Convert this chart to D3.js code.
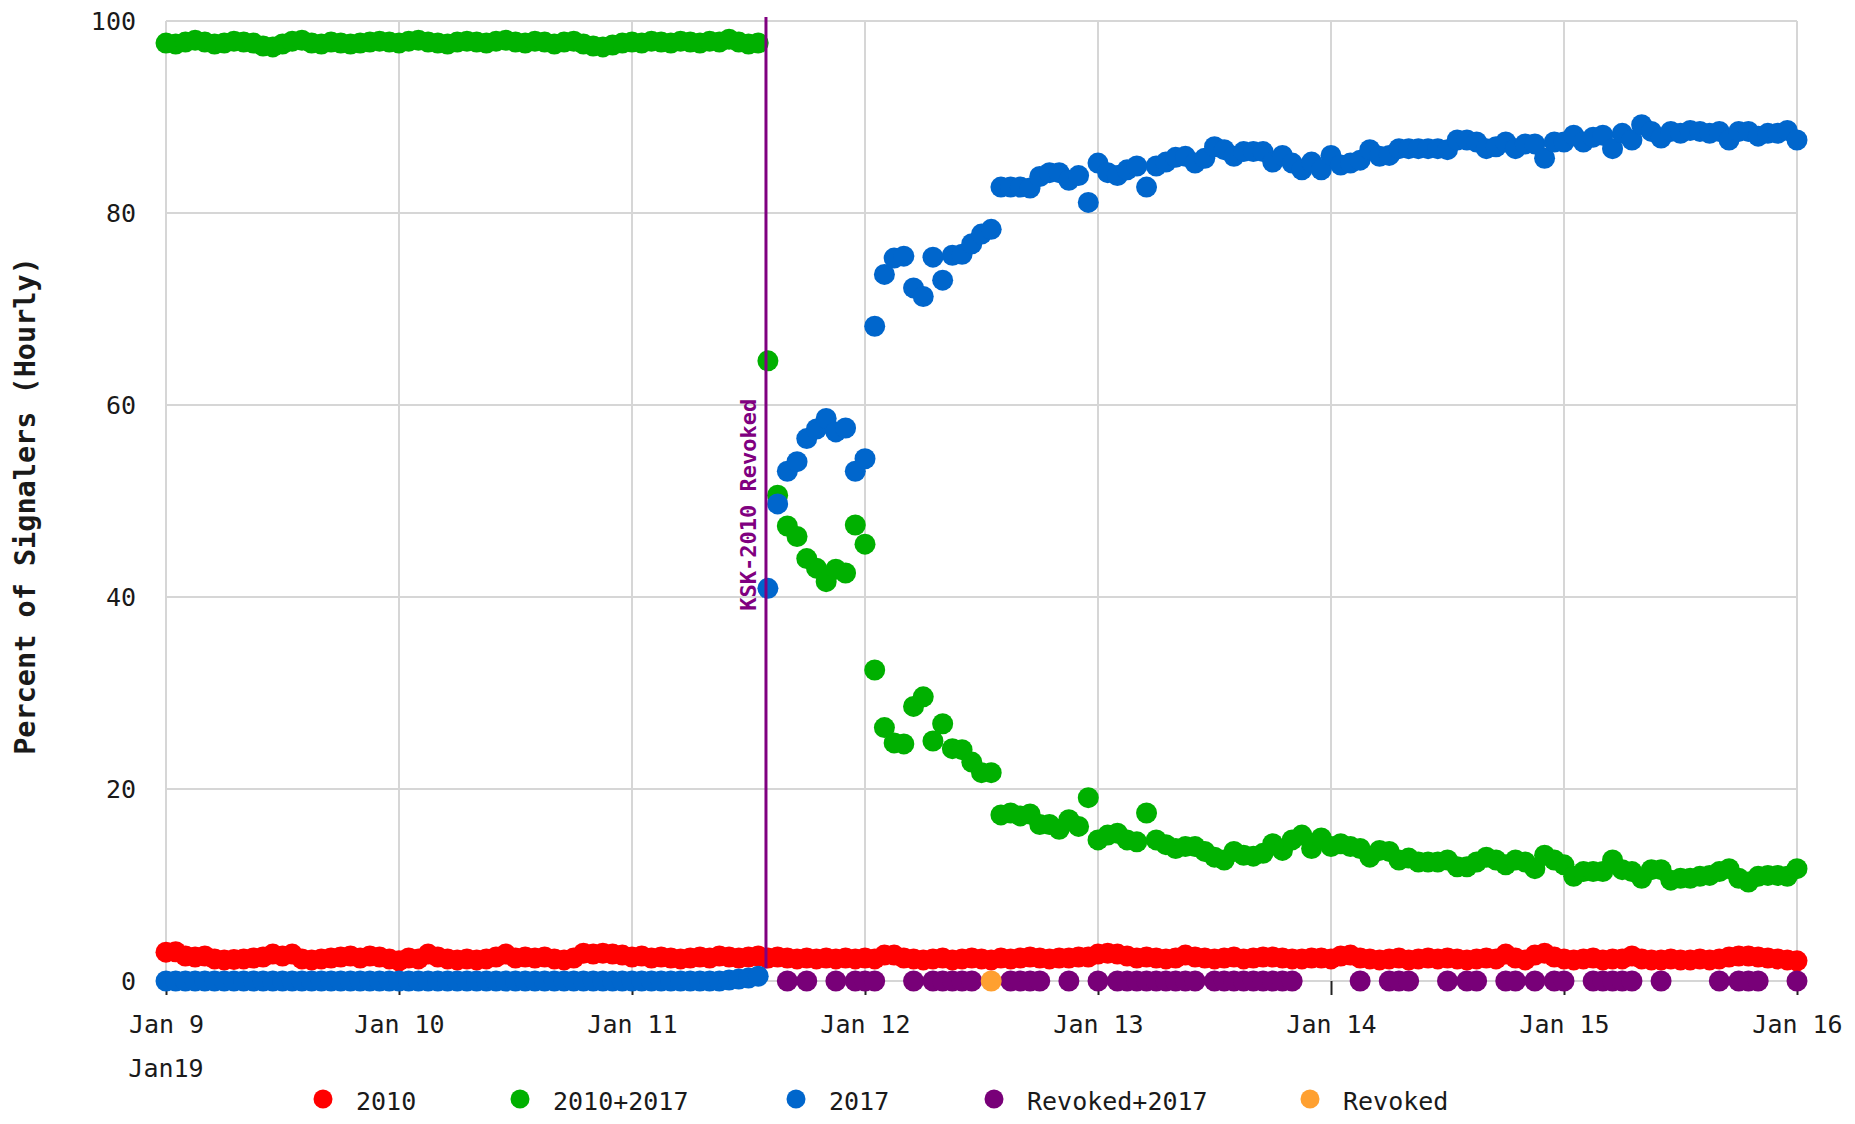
<!DOCTYPE html>
<html>
<head>
<meta charset="utf-8">
<script src="https://cdn.jsdelivr.net/npm/d3@7"></script>
<style>
  html, body { margin: 0; padding: 0; background: #ffffff; }
  svg { display: block; font-family: "DejaVu Sans Mono", "Liberation Mono", monospace; }
</style>
</head>
<body>
<svg id="chart" width="1855" height="1124"></svg>
<script>
// Hourly share of signalers per trust-anchor configuration, Jan 9 - Jan 16 2019.
// Each array holds one value per hour, index 0 = Jan 9 00:00.
const startTime = new Date(2019, 0, 9, 0, 0);
const endTime = new Date(2019, 0, 16, 0, 0);
const dayLabels = ["Jan 9", "Jan 10", "Jan 11", "Jan 12", "Jan 13", "Jan 14", "Jan 15", "Jan 16"];
const yearLabel = "Jan19";
const yTicks = [0, 20, 40, 60, 80, 100];
const yTitle = "Percent of Signalers (Hourly)";
const revocationTime = new Date(2019, 0, 11, 13, 48);
const revocationLabel = "KSK-2010 Revoked";

const seriesNames = ["2010", "2010+2017", "2017", "Revoked+2017", "Revoked"];
const seriesColors = ["#ff0000", "#00b000", "#0066cc", "#780078", "#ffa030"];

const pct2010 = [
  3.0, 3.05, 2.6, 2.5, 2.6, 2.3, 2.2, 2.25, 2.3, 2.4,
  2.5, 2.8, 2.6, 2.8, 2.3, 2.2, 2.3, 2.4, 2.5, 2.6,
  2.4, 2.6, 2.5, 2.3, 2.1, 2.4, 2.3, 2.8, 2.5, 2.3,
  2.2, 2.3, 2.2, 2.3, 2.5, 2.8, 2.4, 2.5, 2.4, 2.5,
  2.3, 2.2, 2.4, 2.9, 2.8, 2.9, 2.8, 2.7, 2.5, 2.6,
  2.4, 2.5, 2.4, 2.3, 2.4, 2.5, 2.4, 2.6, 2.5, 2.4,
  2.5, 2.6,
  2.4, 2.5, 2.4, 2.3, 2.4, 2.3, 2.4, 2.3, 2.4, 2.3,
  2.4, 2.3, 2.7, 2.7, 2.4, 2.3, 2.2, 2.3, 2.4, 2.2,
  2.3, 2.4, 2.3, 2.2, 2.4, 2.3, 2.4, 2.5, 2.4, 2.3,
  2.4, 2.4, 2.5, 2.5, 2.8, 2.9, 2.8, 2.6, 2.4, 2.5,
  2.4, 2.3, 2.4, 2.7, 2.5, 2.4, 2.3, 2.4, 2.5, 2.3,
  2.4, 2.5, 2.5, 2.4, 2.3, 2.3, 2.4, 2.4, 2.3, 2.6,
  2.7, 2.4, 2.3, 2.2, 2.3, 2.4, 2.2, 2.3, 2.4, 2.3,
  2.4, 2.3, 2.2, 2.3, 2.4, 2.3, 2.8, 2.4, 2.2, 2.7,
  2.9, 2.5, 2.3, 2.2, 2.3, 2.4, 2.2, 2.3, 2.3, 2.6,
  2.3, 2.2, 2.2, 2.3, 2.2, 2.2, 2.3, 2.2, 2.3, 2.5,
  2.6, 2.6, 2.5, 2.4, 2.3, 2.2, 2.1
];

const pct2010and2017 = [
  97.7, 97.6, 97.8, 98.0, 97.8, 97.6, 97.7, 97.9, 97.8, 97.7,
  97.4, 97.3, 97.6, 97.9, 98.0, 97.7, 97.6, 97.8, 97.7, 97.6,
  97.7, 97.8, 97.9, 97.8, 97.7, 97.9, 98.0, 97.8, 97.7, 97.6,
  97.8, 97.9, 97.8, 97.7, 97.9, 98.0, 97.8, 97.7, 97.9, 97.8,
  97.6, 97.8, 97.9, 97.6, 97.4, 97.3, 97.5, 97.7, 97.8, 97.7,
  97.9, 97.8, 97.7, 97.9, 97.8, 97.7, 97.9, 97.8, 98.1, 97.8,
  97.6, 97.7,
  64.6, 50.6, 47.4, 46.3, 44.0, 43.0, 41.6, 42.9, 42.5, 47.5,
  45.5, 32.4, 26.4, 24.8, 24.7, 28.6, 29.6, 25.0, 26.8, 24.2,
  24.1, 22.8, 21.7, 21.7, 17.3, 17.5, 17.2, 17.4, 16.3, 16.3,
  15.8, 16.8, 16.1, 19.1, 14.7, 15.2, 15.4, 14.7, 14.5, 17.5,
  14.7, 14.2, 13.8, 14.0, 14.0, 13.5, 12.9, 12.6, 13.5, 13.1,
  13.0, 13.3, 14.3, 13.6, 14.7, 15.2, 13.8, 14.9, 14.0, 14.3,
  14.0, 13.8, 12.9, 13.6, 13.5, 12.6, 12.8, 12.4, 12.4, 12.4,
  12.6, 11.9, 11.9, 12.4, 12.9, 12.6, 12.1, 12.6, 12.4, 11.7,
  13.1, 12.6, 12.1, 10.9, 11.4, 11.4, 11.4, 12.6, 11.6, 11.4,
  10.7, 11.6, 11.6, 10.5, 10.7, 10.7, 10.9, 11.0, 11.4, 11.7,
  10.7, 10.3, 10.9, 11.0, 11.0, 10.9, 11.7
];

const pct2017 = [
  0, 0, 0, 0, 0, 0, 0, 0, 0, 0,
  0, 0, 0, 0, 0, 0, 0, 0, 0, 0,
  0, 0, 0, 0, 0, 0, 0, 0, 0, 0,
  0, 0, 0, 0, 0, 0, 0, 0, 0, 0,
  0, 0, 0, 0, 0, 0, 0, 0, 0, 0,
  0, 0, 0, 0, 0, 0, 0, 0, 0.1, 0.2,
  0.3, 0.5,
  40.9, 49.7, 53.1, 54.1, 56.5, 57.5, 58.6, 57.2, 57.6, 53.1,
  54.4, 68.2, 73.6, 75.3, 75.5, 72.2, 71.3, 75.4, 73.0, 75.6,
  75.7, 76.8, 77.8, 78.3, 82.7, 82.7, 82.7, 82.6, 83.8, 84.2,
  84.2, 83.4, 83.9, 81.1, 85.2, 84.2, 83.9, 84.5, 84.9, 82.7,
  84.9, 85.3, 85.8, 85.9, 85.2, 85.7, 86.9, 86.6, 85.9, 86.4,
  86.4, 86.4, 85.3, 86.0, 85.2, 84.5, 85.3, 84.5, 86.0, 85.0,
  85.2, 85.5, 86.6, 85.9, 86.0, 86.7, 86.7, 86.7, 86.7, 86.7,
  86.6, 87.6, 87.6, 87.4, 86.7, 86.9, 87.4, 86.7, 87.2, 87.2,
  85.7, 87.4, 87.4, 88.1, 87.4, 87.9, 88.1, 86.7, 88.3, 87.6,
  89.2, 88.5, 87.8, 88.5, 88.3, 88.6, 88.5, 88.3, 88.5, 87.6,
  88.5, 88.5, 88.0, 88.3, 88.3, 88.6, 87.6
];

// Sparse series: hour index and value for the hours that reported
const revokedPlus2017Hours = [
  64, 66, 69, 71, 72, 73, 77, 79, 80, 81, 82, 83, 87, 88, 89, 90, 93,
  96, 98, 99, 100, 101, 102, 103, 104, 105, 106, 108, 109, 110, 111, 112,
  113, 114, 115, 116, 123, 126, 127, 128, 132, 134, 135, 138, 139, 141,
  143, 144, 147, 148, 149, 150, 151, 154, 160, 162, 163, 164, 168
];
const revokedPlus2017Value = 0;
const revokedOnlyHours = [85];
const revokedOnlyValue = 0;

// ---- layout ----
const svg = d3.select("#chart");
const plot = { left: 166, right: 1797, top: 21, bottom: 981 };
const dotR = 10.5;

const x = d3.scaleTime().domain([startTime, endTime]).range([plot.left, plot.right]);
const y = d3.scaleLinear().domain([0, 100]).range([plot.bottom, plot.top]);
const hourTime = i => d3.timeHour.offset(startTime, i);
const dayTimes = d3.timeDay.range(startTime, d3.timeDay.offset(endTime, 1));

// grid
const grid = svg.append("g").attr("stroke", "#d6d6d6").attr("stroke-width", 2);
grid.selectAll("line.h").data(yTicks).join("line")
  .attr("x1", plot.left).attr("x2", plot.right)
  .attr("y1", d => y(d)).attr("y2", d => y(d));
grid.selectAll("line.v").data(dayTimes).join("line")
  .attr("x1", d => x(d)).attr("x2", d => x(d))
  .attr("y1", plot.top).attr("y2", plot.bottom);

// x axis: short black ticks below the zero line, day labels underneath
const xAxis = svg.append("g")
  .attr("transform", `translate(0,${plot.bottom})`)
  .call(d3.axisBottom(x).tickValues(dayTimes).tickSize(14).tickPadding(20)
    .tickFormat((d, i) => dayLabels[i]));
xAxis.select(".domain").remove();
xAxis.selectAll(".tick line").attr("stroke", "#222").attr("stroke-width", 2);
xAxis.selectAll(".tick text")
  .attr("fill", "#1a1a1a").attr("font-size", 25)
  .attr("font-family", "DejaVu Sans Mono, monospace");

svg.append("text")
  .attr("x", x(startTime)).attr("y", 1077)
  .attr("text-anchor", "middle").attr("font-size", 25).attr("fill", "#1a1a1a")
  .text(yearLabel);

// y axis labels
const yAxis = svg.append("g")
  .attr("transform", `translate(${plot.left},0)`)
  .call(d3.axisLeft(y).tickValues(yTicks).tickSize(0).tickPadding(30));
yAxis.select(".domain").remove();
yAxis.selectAll(".tick text")
  .attr("fill", "#1a1a1a").attr("font-size", 25)
  .attr("font-family", "DejaVu Sans Mono, monospace");

svg.append("text")
  .attr("transform", `translate(35,506) rotate(-90)`)
  .attr("text-anchor", "middle").attr("font-size", 28.5).attr("font-weight", "bold")
  .attr("fill", "#1a1a1a")
  .text(yTitle);

// data points
const dense = [pct2010, pct2010and2017, pct2017];
dense.forEach((vals, s) => {
  svg.append("g").attr("fill", seriesColors[s])
    .selectAll("circle").data(vals).join("circle")
    .attr("cx", (d, i) => x(hourTime(i)))
    .attr("cy", d => y(d))
    .attr("r", dotR);
});

svg.append("g").attr("fill", seriesColors[3])
  .selectAll("circle").data(revokedPlus2017Hours).join("circle")
  .attr("cx", h => x(hourTime(h)))
  .attr("cy", y(revokedPlus2017Value))
  .attr("r", dotR);

svg.append("g").attr("fill", seriesColors[4])
  .selectAll("circle").data(revokedOnlyHours).join("circle")
  .attr("cx", h => x(hourTime(h)))
  .attr("cy", y(revokedOnlyValue))
  .attr("r", dotR);

// revocation marker
const rx = x(revocationTime);
svg.append("line")
  .attr("x1", rx).attr("x2", rx)
  .attr("y1", plot.top - 4).attr("y2", y(1.3))
  .attr("stroke", "#800080").attr("stroke-width", 3);
svg.append("text")
  .attr("transform", `translate(${rx - 10},${y(49.6)}) rotate(-90)`)
  .attr("text-anchor", "middle").attr("font-size", 22).attr("font-weight", "bold")
  .attr("fill", "#800080")
  .text(revocationLabel);

// legend
const legendX = [323, 520, 796, 994, 1310];
const legend = svg.append("g");
seriesNames.forEach((name, i) => {
  legend.append("circle")
    .attr("cx", legendX[i]).attr("cy", 1099).attr("r", 9.5)
    .attr("fill", seriesColors[i]);
  legend.append("text")
    .attr("x", legendX[i] + 33).attr("y", 1110)
    .attr("font-size", 25).attr("fill", "#1a1a1a")
    .text(name);
});
</script>
</body>
</html>
